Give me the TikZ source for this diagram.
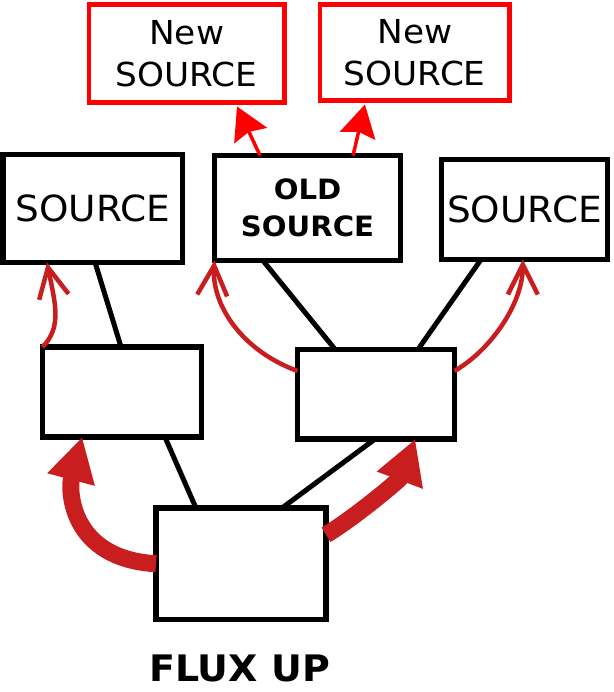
\documentclass[tikz,border=0pt]{standalone}
\usepackage{fontspec}
\setmainfont[FakeStretch=1.04]{DejaVu Sans}
\usetikzlibrary{arrows.meta,calc}
\definecolor{fluxred}{RGB}{200,30,32}
\definecolor{newred}{RGB}{255,0,0}
\begin{document}
\begin{tikzpicture}[x=1pt,y=-1pt,
  box/.style={draw=black,line width=5.5pt,fill=white,rectangle,inner sep=0pt,outer sep=0pt},
  srctext/.style={font=\fontsize{36}{42}\selectfont},
  newbox/.style={draw=newred,line width=4.5pt,fill=white,rectangle,inner sep=0pt,outer sep=0pt,
    align=center,font=\fontsize{33}{42}\selectfont},
  link/.style={line width=5pt},
  flux/.style={draw=fluxred,line width=4.5pt,-{Straight Barb[length=30pt,width=30pt]}},
  bigflux/.style={draw=fluxred,line width=17pt,-{Triangle[length=44pt,width=46pt]}},
  spawn/.style={draw=newred,line width=3.5pt,-{Stealth[length=32pt,width=36pt,inset=4pt]}}]
\useasboundingbox (0,0) rectangle (613,692);

% source boxes
\node[box,srctext,minimum width=179.5pt,minimum height=108pt] (srcL) at (92.75,208.5) {SOURCE};
\node[box,minimum width=186pt,minimum height=105pt,align=center,
      font=\bfseries\fontsize{28}{37}\selectfont] (old) at (307.5,208) {OLD\\SOURCE};
\node[box,srctext,minimum width=166pt,minimum height=100pt] (srcR) at (524.5,209.5) {SOURCE};

% new sources spawned from the old one
\node[newbox,minimum width=195.5pt,minimum height=98pt] (newL) at (186.75,53.5) {New\\SOURCE};
\node[newbox,minimum width=189.5pt,minimum height=96pt] (newR) at (414.75,52.5) {New\\SOURCE};

% intermediate and bottom boxes
\node[box,minimum width=159pt,minimum height=90pt] (midL) at (122,392) {};
\node[box,minimum width=157pt,minimum height=89.5pt] (midR) at (376,394.25) {};
\node[box,minimum width=170pt,minimum height=111.5pt] (bot) at (241,563.75) {};

\node[font=\bfseries\fontsize{36.5}{40}\selectfont] (label) at (239.5,668.5) {FLUX UP};

% tree links
\draw[link] ($(srcL.south west)!.513!(srcL.south east)$) -- ($(midL.north west)!.494!(midL.north east)$);
\draw[link] ($(old.south west)!.26!(old.south east)$) -- ($(midR.north west)!.24!(midR.north east)$);
\draw[link] ($(srcR.south west)!.238!(srcR.south east)$) -- ($(midR.north west)!.767!(midR.north east)$);
\draw[link] ($(midL.south west)!.77!(midL.south east)$) -- ($(bot.north west)!.235!(bot.north east)$);
\draw[link] ($(midR.south west)!.494!(midR.south east)$) -- ($(bot.north west)!.741!(bot.north east)$);

% flux arrows
\draw[bigflux] (bot.west) .. controls +(-86,-5) and +(-14,53) .. ($(midL.south west)!.25!(midL.south east)$);
\draw[bigflux] ($(bot.north east)!.24!(bot.south east)$) .. controls +(30,-18) and +(-15,40) .. ($(midR.south west)!.75!(midR.south east)$);
\draw[flux] (midL.north west) .. controls +(20,-20) and +(8,40) .. ($(srcL.south west)!.245!(srcL.south east)$);
\draw[flux] ($(midR.north west)!.24!(midR.south west)$) .. controls +(-55,-20) and +(-3,45) .. (old.south west);
\draw[flux] ($(midR.north east)!.24!(midR.south east)$) .. controls +(35,-20) and +(0,45) .. ($(srcR.south west)!.49!(srcR.south east)$);

% spawning arrows
\draw[spawn] ($(old.north west)!.245!(old.north east)$) -- ($(newL.south west)!.757!(newL.south east)+(0,4)$);
\draw[spawn] ($(old.north west)!.745!(old.north east)$) -- ($(newR.south west)!.237!(newR.south east)+(0,4)$);
\end{tikzpicture}
\end{document}
